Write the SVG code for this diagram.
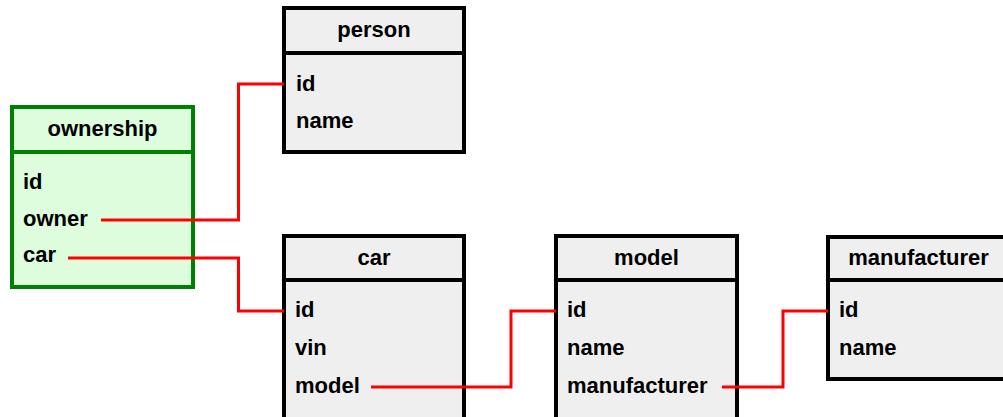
<svg xmlns="http://www.w3.org/2000/svg" width="1003" height="417" viewBox="0 0 1003 417">
<style>
.box{fill:#efefef;stroke:#000;stroke-width:4}
.div{stroke:#000;stroke-width:4}
.gbox{fill:#ddfddd;stroke:#008000;stroke-width:4}
.gdiv{stroke:#008000;stroke-width:4}
text{font-family:"Liberation Sans",Arial,sans-serif;font-weight:bold;font-size:22px;fill:#000}
.t{text-anchor:middle}
.c{fill:none;stroke:#ff0000;stroke-width:3}
</style>
<rect width="1003" height="417" fill="#fff"/>
<g id="ownership">
<rect class="gbox" x="12" y="107" width="181" height="180"/>
<line class="gdiv" x1="12" y1="152" x2="193" y2="152"/>
<text class="t" x="102.5" y="136">ownership</text>
<text x="23" y="189">id</text>
<text x="23" y="225.5">owner</text>
<text x="23" y="262">car</text>
</g>
<g id="person">
<rect class="box" x="284" y="8" width="180" height="144"/>
<line class="div" x1="284" y1="53" x2="464" y2="53"/>
<text class="t" x="374" y="37">person</text>
<text x="296" y="91">id</text>
<text x="296" y="128">name</text>
</g>
<g id="car">
<rect class="box" x="284" y="236" width="180" height="184"/>
<line class="div" x1="284" y1="280" x2="464" y2="280"/>
<text class="t" x="374" y="265">car</text>
<text x="295" y="317">id</text>
<text x="295" y="354.5">vin</text>
<text x="295" y="392.5">model</text>
</g>
<g id="model">
<rect class="box" x="556" y="236" width="181" height="184"/>
<line class="div" x1="556" y1="280" x2="737" y2="280"/>
<text class="t" x="646.5" y="265">model</text>
<text x="567" y="317">id</text>
<text x="567" y="354.5">name</text>
<text x="567" y="392.5">manufacturer</text>
</g>
<g id="manufacturer">
<rect class="box" x="828" y="237" width="181" height="142"/>
<line class="div" x1="828" y1="280" x2="1009" y2="280"/>
<text class="t" x="918.5" y="265">manufacturer</text>
<text x="839" y="317">id</text>
<text x="839" y="354.5">name</text>
</g>
<g id="connectors">
<polyline class="c" points="101,220 238.5,220 238.5,84 284,84"/>
<polyline class="c" points="68,258 238.5,258 238.5,311 284,311"/>
<polyline class="c" points="371,387 511,387 511,311 556,311"/>
<polyline class="c" points="722,387 783,387 783,311 828,311"/>
</g>
</svg>
